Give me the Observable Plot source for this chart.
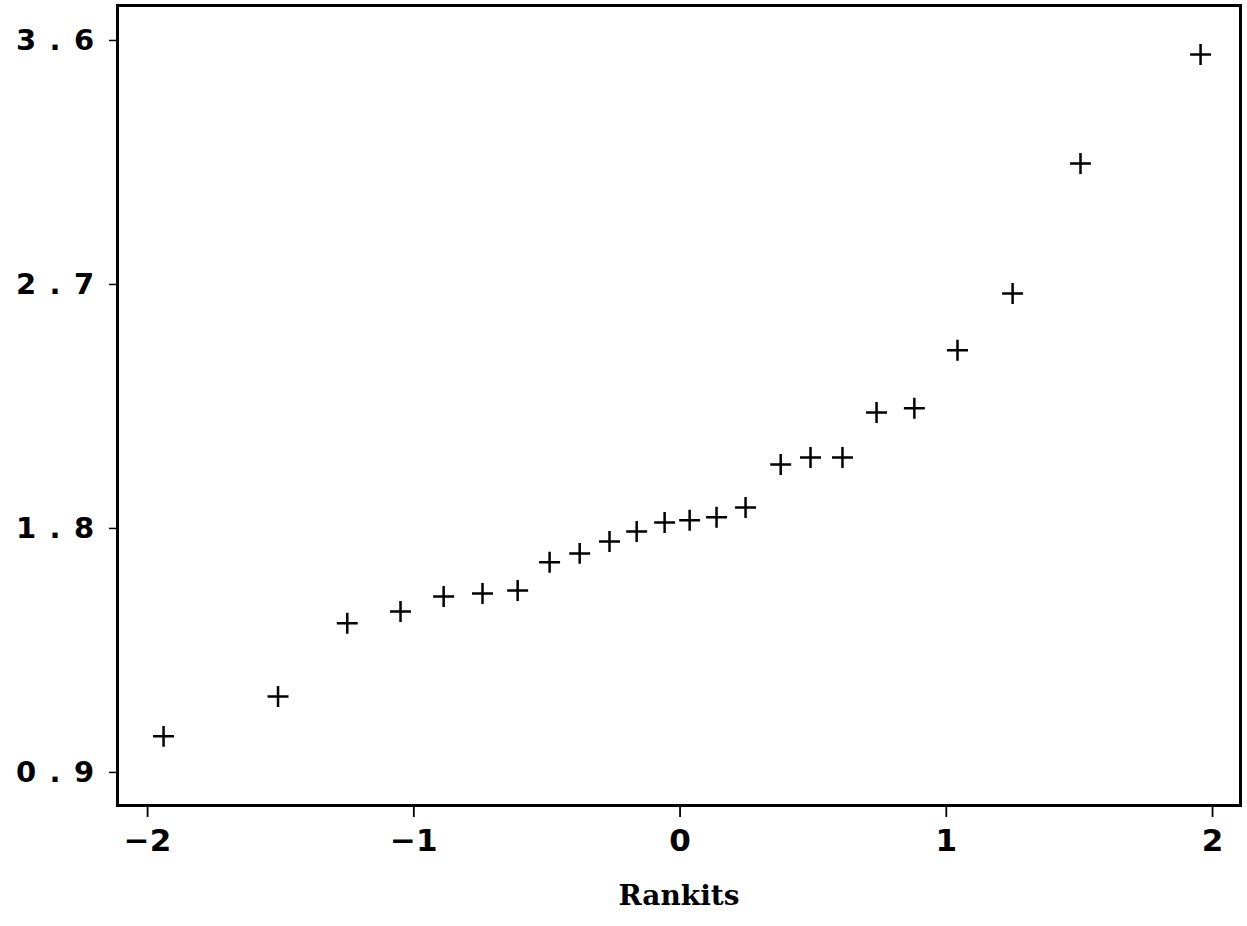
<!DOCTYPE html>
<html>
<head>
<meta charset="utf-8">
<script src="https://cdn.jsdelivr.net/npm/d3@7"></script>
<script src="https://cdn.jsdelivr.net/npm/@observablehq/plot@0.6"></script>
<style>
  body { margin: 0; background: #fff; }
  #chart svg { display: block; }
</style>
</head>
<body>
<div id="chart"></div>
<script>
const rankits = [-1.94, -1.51, -1.25, -1.05, -0.888, -0.742, -0.61, -0.49, -0.377, -0.265, -0.163, -0.058,
                 0.036, 0.137, 0.246, 0.378, 0.49, 0.61, 0.738, 0.88, 1.042, 1.249, 1.504, 1.955];
const values  = [1.033, 1.180, 1.450, 1.494, 1.549, 1.560, 1.571, 1.675, 1.708, 1.752, 1.789, 1.822,
                 1.830, 1.841, 1.877, 2.036, 2.062, 2.062, 2.228, 2.243, 2.457, 2.667, 3.146, 3.548];
const xTicks = [-2, -1, 0, 1, 2];
const yTicks = [0.9, 1.8, 2.7, 3.6];
const xLabel = "Rankits";

const data = rankits.map((r, i) => ({r, v: values[i]}));

const chart = Plot.plot({
  width: 1247,
  height: 926,
  marginLeft: 117,
  marginRight: 7,
  marginTop: 5,
  marginBottom: 121,
  x: {domain: [-2.113, 2.105]},
  y: {domain: [0.778, 3.729]},
  style: {background: "#fff", color: "#000"},
  marks: [
    Plot.frame({stroke: "#000", strokeWidth: 3}),
    Plot.axisX({
      ticks: xTicks, tickSize: 12, tickPadding: 11, label: null,
      tickFormat: d => d < 0 ? "\u2212" + Math.abs(d) : String(d),
      fontSize: 31, fontFamily: "DejaVu Sans", fontWeight: "bold",
      strokeWidth: 1.8
    }),
    Plot.axisY({
      ticks: yTicks, tickSize: 8, tickPadding: 2, label: null,
      tickFormat: d => d.toFixed(1),
      fontSize: 29, fontFamily: "DejaVu Sans", fontWeight: "bold",
      strokeWidth: 1.5
    }),
    Plot.dot(data, {x: "r", y: "v", symbol: "plus", r: 6.8, stroke: "#000", strokeWidth: 2.5}),
    Plot.text([xLabel], {
      frameAnchor: "bottom", dy: 99, text: d => d,
      fontSize: 28, fontFamily: "DejaVu Serif", fontWeight: "bold", fill: "#000"
    })
  ]
});
document.getElementById("chart").append(chart);
chart.querySelectorAll("[aria-label='y-axis tick label'] text").forEach(t => t.setAttribute("letter-spacing", "13.4"));
</script>
</body>
</html>
